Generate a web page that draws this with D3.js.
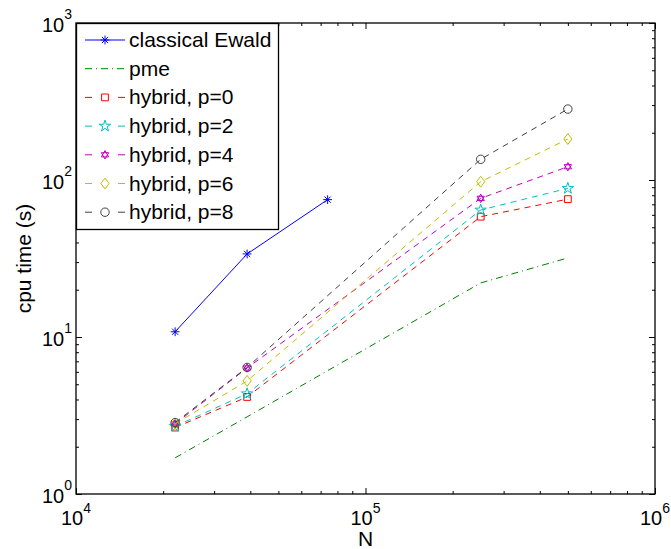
<!DOCTYPE html>
<html>
<head>
<meta charset="utf-8">
<script src="https://cdn.jsdelivr.net/npm/d3@7"></script>
<style>
  body { margin: 0; background: #fff; }
  text { font-family: "Liberation Sans", Arial, Helvetica, sans-serif; fill: #000; }
</style>
</head>
<body>
<div id="chart"></div>
<script>
// data
var ewaldN = [22000, 39000, 74000];
var ewaldT = [10.8, 33.8, 75];
var hybridN = [22000, 39000, 250000, 500000];
var pmeT = [1.70, 3.1, 22.1, 31.9];
var p0T = [2.65, 4.15, 58.4, 75.5];
var p2T = [2.7, 4.35, 64.4, 88.5];
var p4T = [2.8, 6.35, 76.4, 121.5];
var p6T = [2.8, 5.25, 97.5, 182.5];
var p8T = [2.85, 6.4, 135.5, 283];
var xTicks = [1e4, 1e5, 1e6];
var yTicks = [1, 10, 100, 1000];

var margin = {top: 23, right: 16, bottom: 55, left: 76},
    width = 671 - margin.left - margin.right,
    height = 549 - margin.top - margin.bottom;

var x = d3.scaleLog().domain([1e4, 1e6]).range([0, width]);
var y = d3.scaleLog().domain([1, 1000]).range([height, 0]);

// hexagram marker (matlab 'h')
var symbolHexagram = {
  draw: function(ctx, size) {
    var r = Math.sqrt(size) * 0.62;
    for (var t = 0; t < 2; t++) {
      for (var i = 0; i < 3; i++) {
        var a = (t * 60 + i * 120 - 90) * Math.PI / 180;
        if (i == 0) ctx.moveTo(r * Math.cos(a), r * Math.sin(a));
        else ctx.lineTo(r * Math.cos(a), r * Math.sin(a));
      }
      ctx.closePath();
    }
  }
};
// 8 arm asterisk (matlab '*')
var symbolStar8 = {
  draw: function(ctx, size) {
    var r = Math.sqrt(size) * 0.55;
    for (var i = 0; i < 4; i++) {
      var a = i * Math.PI / 4;
      ctx.moveTo(-r * Math.cos(a), -r * Math.sin(a));
      ctx.lineTo(r * Math.cos(a), r * Math.sin(a));
    }
  }
};
// wider diamond (matlab 'd')
var symbolRhomb = {
  draw: function(ctx, size) {
    var h = Math.sqrt(size) * 0.8, w = h * 0.75;
    ctx.moveTo(0, -h); ctx.lineTo(w, 0); ctx.lineTo(0, h); ctx.lineTo(-w, 0);
    ctx.closePath();
  }
};

var series = [
  {name: "classical Ewald", n: ewaldN, t: ewaldT, color: "#0000ff", dash: null, sym: symbolStar8, size: 64},
  {name: "pme", n: hybridN, t: pmeT, color: "#008000", dash: "7,4,1,4", sym: null},
  {name: "hybrid, p=0", n: hybridN, t: p0T, color: "#ff0000", dash: "6,5", sym: d3.symbolSquare, size: 46},
  {name: "hybrid, p=2", n: hybridN, t: p2T, color: "#00bfbf", dash: "6,5", sym: d3.symbolStar, size: 40},
  {name: "hybrid, p=4", n: hybridN, t: p4T, color: "#bf00bf", dash: "6,5", sym: symbolHexagram, size: 46},
  {name: "hybrid, p=6", n: hybridN, t: p6T, color: "#bfbf00", dash: "6,5", sym: symbolRhomb, size: 46},
  {name: "hybrid, p=8", n: hybridN, t: p8T, color: "#404040", dash: "6,5", sym: d3.symbolCircle, size: 56}
];

var svg = d3.select("#chart").append("svg")
    .attr("width", 671)
    .attr("height", 549)
  .append("g")
    .attr("transform", "translate(" + margin.left + "," + margin.top + ")");

// minor tick values
var xMinor = [], yMinor = [];
[1e4, 1e5].forEach(function(d) { for (var k = 2; k < 10; k++) xMinor.push(d * k); });
[1, 10, 100].forEach(function(d) { for (var k = 2; k < 10; k++) yMinor.push(d * k); });

function drawAxis(axis, tr) {
  var g = svg.append("g").attr("transform", tr).call(axis);
  g.select(".domain").remove();
  g.selectAll("line").attr("stroke", "#000").attr("stroke-width", 1);
  return g;
}
// ticks point inward on all four sides
drawAxis(d3.axisBottom(x).tickValues(xTicks).tickSize(-6).tickFormat(""), "translate(0," + height + ")");
drawAxis(d3.axisBottom(x).tickValues(xMinor).tickSize(-3).tickFormat(""), "translate(0," + height + ")");
drawAxis(d3.axisTop(x).tickValues(xTicks).tickSize(-6).tickFormat(""), "translate(0,0)");
drawAxis(d3.axisTop(x).tickValues(xMinor).tickSize(-3).tickFormat(""), "translate(0,0)");
drawAxis(d3.axisLeft(y).tickValues(yTicks).tickSize(-6).tickFormat(""), "translate(0,0)");
drawAxis(d3.axisLeft(y).tickValues(yMinor).tickSize(-3).tickFormat(""), "translate(0,0)");
drawAxis(d3.axisRight(y).tickValues(yTicks).tickSize(-6).tickFormat(""), "translate(" + width + ",0)");
drawAxis(d3.axisRight(y).tickValues(yMinor).tickSize(-3).tickFormat(""), "translate(" + width + ",0)");

// data lines
var line = d3.line()
    .x(function(d) { return x(d[0]); })
    .y(function(d) { return y(d[1]); });

series.forEach(function(s) {
  var pts = s.n.map(function(v, i) { return [v, s.t[i]]; });
  svg.append("path")
      .datum(pts)
      .attr("fill", "none")
      .attr("stroke", s.color)
      .attr("stroke-width", 1)
      .attr("stroke-dasharray", s.dash)
      .attr("d", line);
  if (s.sym) {
    svg.selectAll(null)
        .data(pts)
        .enter().append("path")
        .attr("transform", function(d) { return "translate(" + x(d[0]) + "," + y(d[1]) + ")"; })
        .attr("d", d3.symbol().type(s.sym).size(s.size))
        .attr("fill", "none")
        .attr("stroke", s.color)
        .attr("stroke-width", 1);
  }
});

// box
svg.append("rect")
    .attr("width", width)
    .attr("height", height)
    .attr("fill", "none")
    .attr("stroke", "#000")
    .attr("stroke-width", 1.3);

// tick labels, 10 with a superscript
xTicks.forEach(function(v) {
  var t = svg.append("text")
      .attr("x", x(v))
      .attr("y", height + 31)
      .attr("text-anchor", "middle")
      .style("font-size", "20px");
  t.append("tspan").text("10");
  t.append("tspan").attr("dy", -12).style("font-size", "14px").text(Math.round(Math.log10(v)));
});
yTicks.forEach(function(v) {
  var t = svg.append("text")
      .attr("x", -4)
      .attr("y", y(v) + 9)
      .attr("text-anchor", "end")
      .style("font-size", "20px");
  t.append("tspan").text("10");
  t.append("tspan").attr("dy", -13).style("font-size", "14px").text(Math.round(Math.log10(v)));
});

// axis titles
svg.append("text")
    .attr("x", width / 2)
    .attr("y", height + 52)
    .attr("text-anchor", "middle")
    .style("font-size", "21px")
    .text("N");
svg.append("text")
    .attr("transform", "translate(-45," + (height / 2) + ") rotate(-90)")
    .attr("text-anchor", "middle")
    .style("font-size", "21px")
    .text("cpu time (s)");

// legend
var legend = svg.append("g");
legend.append("rect")
    .attr("x", 0.5)
    .attr("y", 0.5)
    .attr("width", 202)
    .attr("height", 206)
    .attr("fill", "#fff")
    .attr("stroke", "#000")
    .attr("stroke-width", 1.3);

series.forEach(function(s, i) {
  var ly = 17 + i * 28.7;
  var row = legend.append("g").attr("transform", "translate(0," + ly + ")");
  if (s.dash == "6,5") {
    row.append("line").attr("x1", 9).attr("x2", 16).attr("stroke", s.color);
    row.append("line").attr("x1", 42).attr("x2", 49).attr("stroke", s.color);
  } else {
    row.append("line")
        .attr("x1", 9).attr("x2", 49)
        .attr("stroke", s.color)
        .attr("stroke-dasharray", s.dash);
  }
  if (s.sym) {
    row.append("path")
        .attr("transform", "translate(29,0)")
        .attr("d", d3.symbol().type(s.sym).size(s.size))
        .attr("fill", "none")
        .attr("stroke", s.color);
  }
  row.append("text")
      .attr("x", 53)
      .attr("y", 7)
      .style("font-size", "21px")
      .text(s.name);
});
</script>
</body>
</html>
